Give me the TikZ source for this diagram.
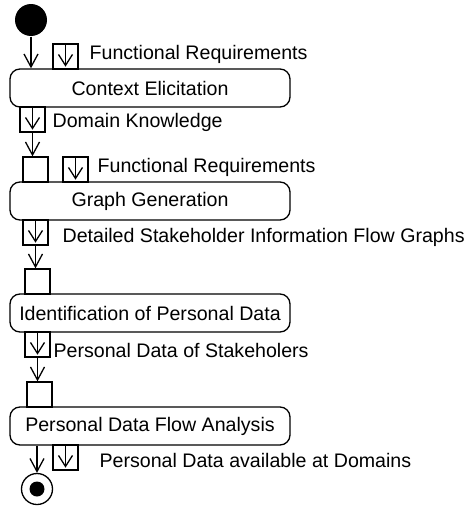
\documentclass[tikz,border=0pt]{standalone}
\usepackage{fontspec}
\setmainfont{Liberation Sans}
\usetikzlibrary{arrows.meta}
\newcommand\fsz{\fontsize{19.6}{23}\selectfont}
\begin{document}
\begin{tikzpicture}[x=1pt,y=-1pt, line width=1.3pt,
  act/.style={draw, rounded corners=10pt, minimum width=280pt, minimum height=38pt, inner sep=0pt, font=\fsz},
  pinbox/.style={draw, minimum width=25pt, minimum height=25pt, inner sep=0pt},
  lbl/.style={anchor=base west, inner sep=0pt, font=\fsz},
  flow/.style={-{Straight Barb[length=13pt,width=14pt]}},
  pinarrow/.style={-{Straight Barb[length=11pt,width=14pt]}},
]
\useasboundingbox (0,0) rectangle (467,506);
% initial node
\node[circle, fill=black, minimum size=32pt, inner sep=0pt] (start) at (31,20) {};
% activity 1
\node[act] (a1) at (150,88) {Context Elicitation};
\node[pinbox] (p1) at (65.5,56.5) {};
\node[lbl] (l1) at (89,59) {Functional Requirements};
\node[pinbox] (p2) at (32.5,119.5) {};
\node[lbl] (l2) at (52,127) {Domain Knowledge};
% activity 2
\node[act] (a2) at (150,201) {Graph Generation};
\node[pinbox] (p3) at (35.5,169.5) {};
\node[pinbox] (p4) at (75.5,169.5) {};
\node[lbl] (l4) at (97,172) {Functional Requirements};
\node[pinbox] (p5) at (35.5,232.5) {};
\node[lbl] (l5) at (62,242) {Detailed Stakeholder Information Flow Graphs};
% activity 3
\node[act] (a3) at (150,313) {Identification of Personal Data};
\node[pinbox] (p6) at (37.5,281.5) {};
\node[pinbox] (p7) at (37.5,344.5) {};
\node[lbl] (l7) at (53,357) {Personal Data of Stakeholers};
% activity 4
\node[act] (a4) at (150,426) {Personal Data Flow Analysis};
\node[pinbox] (p8) at (39.5,394.5) {};
\node[pinbox] (p9) at (65.5,457.5) {};
\node[lbl] (l9) at (99,467) {Personal Data available at Domains};
% final node
\node[circle, draw, minimum size=31pt, inner sep=0pt] (end) at (37,489) {};
\node[circle, fill=black, minimum size=15pt, inner sep=0pt] (enddot) at (end.center) {};
% arrows inside pins
\foreach \p in {p1,p2,p4,p5,p7,p9}
  \draw[pinarrow] ([yshift=-2pt]\p.north) -- ([yshift=3pt]\p.south);
% flow arrows
\draw[flow] (start.south) -- (start.south |- a1.north);
\draw[flow] (p2.south) -- (p2.south |- p3.north);
\draw[flow] (p5.south) -- (p5.south |- p6.north);
\draw[flow] (p7.south) -- (p7.south |- p8.north);
\draw[flow] (end.north |- a4.south) -- (end.north);
\end{tikzpicture}
\end{document}
